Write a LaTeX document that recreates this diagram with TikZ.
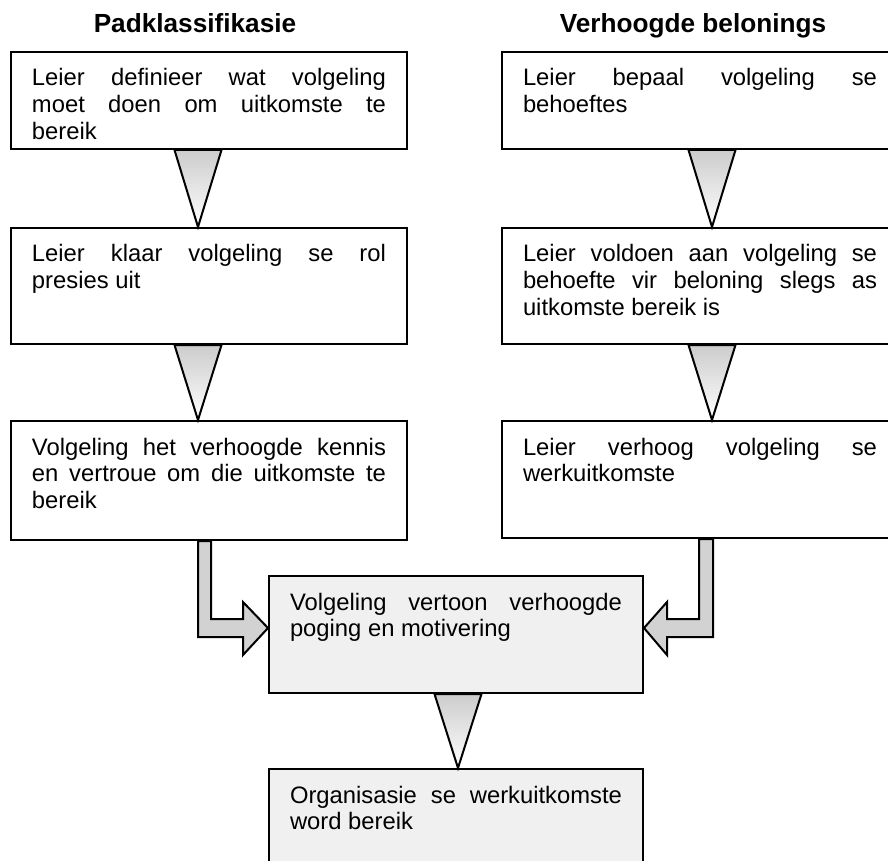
\documentclass[tikz,border=0pt]{standalone}
\usepackage{fontspec}
\setmainfont{Liberation Sans}

\newcommand{\spreadline}[1]{\makebox[\hsize][s]{#1}}
\newcommand{\boxtext}[3][177pt]{\parbox[c][#2][t]{#1}{\rule{0pt}{17pt}#3}}

\begin{document}
\begin{tikzpicture}[x=0.5pt, y=-0.5pt,
    font=\fontsize{11.9}{13.35}\selectfont,
    box/.style={draw, line width=1pt, anchor=north west, inner xsep=10.5pt, inner ysep=0pt},
    greybox/.style={box, fill=gray!12},
    title/.style={font=\bfseries\fontsize{13.1}{15}\selectfont, anchor=base},
    funnel/.style={draw, line width=1pt, top color=gray!40, bottom color=white},
    pipe/.style={draw, line width=1pt, fill=gray!35}
]
    \useasboundingbox (0,0) rectangle (888,861);
    \clip (0,0) rectangle (888,861);

    \node[title] (padtitle) at (195,33) {Padklassifikasie};
    \node[title] (loontitle) at (693,33) {Verhoogde belonings};

    \node[box] (l1) at (10,51) {\boxtext{48.5pt}{\spreadline{Leier definieer wat volgeling}\\ \spreadline{moet doen om uitkomste te}\\ bereik}};
    \node[box] (l2) at (10,227) {\boxtext{58pt}{\spreadline{Leier klaar volgeling se rol}\\ presies uit}};
    \node[box] (l3) at (10,420) {\boxtext{59.5pt}{\spreadline{Volgeling het verhoogde kennis}\\ \spreadline{en vertroue om die uitkomste te}\\ bereik}};

    \node[box] (r1) at (501,51) {\boxtext{48.5pt}{\spreadline{Leier bepaal volgeling se}\\ behoeftes}};
    \node[box] (r2) at (501,227) {\boxtext{58pt}{\spreadline{Leier voldoen aan volgeling se}\\ \spreadline{behoefte vir beloning slegs as}\\ uitkomste bereik is}};
    \node[box] (r3) at (501,420) {\boxtext{58.5pt}{\spreadline{Leier verhoog volgeling se}\\ werkuitkomste}};

    \node[greybox] (motiv) at (268,575) {\boxtext[166pt]{58.5pt}{\spreadline{Volgeling vertoon verhoogde}\\ poging en motivering}};
    \node[greybox] (uitkoms) at (268,768) {\boxtext[166pt]{58.5pt}{\spreadline{Organisasie se werkuitkomste}\\ word bereik}};

    % driehoeke tussen die blokke
    \draw[funnel] ([xshift=-17.25pt]l1.south) -- ([xshift=6.25pt]l1.south) -- ([xshift=-5.5pt]l2.north) -- cycle;
    \draw[funnel] ([xshift=-17.25pt]l2.south) -- ([xshift=6.25pt]l2.south) -- ([xshift=-5.5pt]l3.north) -- cycle;
    \draw[funnel] ([xshift=-5.75pt]r1.south) -- ([xshift=17.75pt]r1.south) -- ([xshift=6pt]r2.north) -- cycle;
    \draw[funnel] ([xshift=-5.75pt]r2.south) -- ([xshift=17.75pt]r2.south) -- ([xshift=6pt]r3.north) -- cycle;
    \draw[funnel] ([xshift=-10.75pt]motiv.south) -- ([xshift=12.75pt]motiv.south) -- ([xshift=1pt]uitkoms.north) -- cycle;

    % blokpyle na die middelste blok
    \draw[pipe] (l3.south -| 198,0) -- (198,637) -- (243,637) -- (243,655) -- (motiv.west |- 0,628)
        -- (243,602) -- (243,619) -- (211,619) -- (l3.south -| 211,0) -- cycle;
    \draw[pipe] (r3.south -| 713,0) -- (713,637) -- (667,637) -- (667,655) -- (motiv.east |- 0,628)
        -- (667,602) -- (667,619) -- (699,619) -- (r3.south -| 699,0) -- cycle;
\end{tikzpicture}
\end{document}
